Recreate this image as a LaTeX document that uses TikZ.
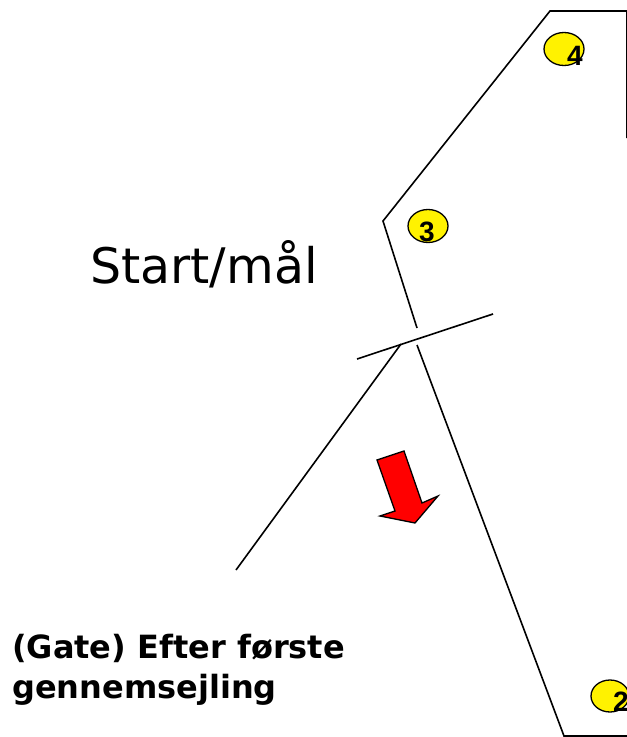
\documentclass[tikz,border=0pt]{standalone}
\usepackage{fontspec}
\setmainfont{DejaVu Sans}
\newfontfamily\digitfont{Liberation Sans}
\usetikzlibrary{shapes.geometric}
\begin{document}
\begin{tikzpicture}[x=1pt,y=-1pt,
  course/.style={line width=1.6pt,line join=miter},
  buoy/.style={draw=black,line width=1.3pt,fill=yellow,ellipse,minimum width=40pt,minimum height=33pt,inner sep=0pt},
  buoylabel/.style={font=\digitfont\bfseries\fontsize{28}{28}\selectfont,inner sep=0pt}]
\useasboundingbox (0,0) rectangle (627,737);
% course outline
\draw[course] (627,138) -- (627,11) -- (550,11) -- (383,221) -- (417,328);
\draw[course] (417,345) -- (564,736) -- (627,736);
% gate and leg
\draw[course] (357,359) -- (493,314);
\draw[course] (401,344) -- (236,570);
% buoys
\node[buoy] (b4) at (564,49) {};
\node[buoylabel] (l4) at (575,56) {4};
\node[buoy] (b3) at (428,226) {};
\node[buoylabel] (l3) at (427,232) {3};
\begin{scope}
\clip (0,0) rectangle (627,737);
\node[buoy,minimum width=38pt,minimum height=32pt] (b2) at (610,696) {};
\node[buoylabel] (l2) at (621,702) {2};
\end{scope}
% red arrow
\draw[line width=1.3pt,fill=red,line join=miter] (377,460) -- (404,451) -- (422,503) -- (438,496) -- (415,523) -- (380,516) -- (395,511) -- cycle;
% texts
\node[font=\fontsize{49}{49}\selectfont,inner sep=0pt] (start) at (204,264) {Start/mål};
\node[font=\bfseries\fontsize{32}{40}\selectfont,align=left,anchor=north west,inner sep=0pt] (gate) at (12,634) {(Gate) Efter første\\gennemsejling};
\end{tikzpicture}
\end{document}
